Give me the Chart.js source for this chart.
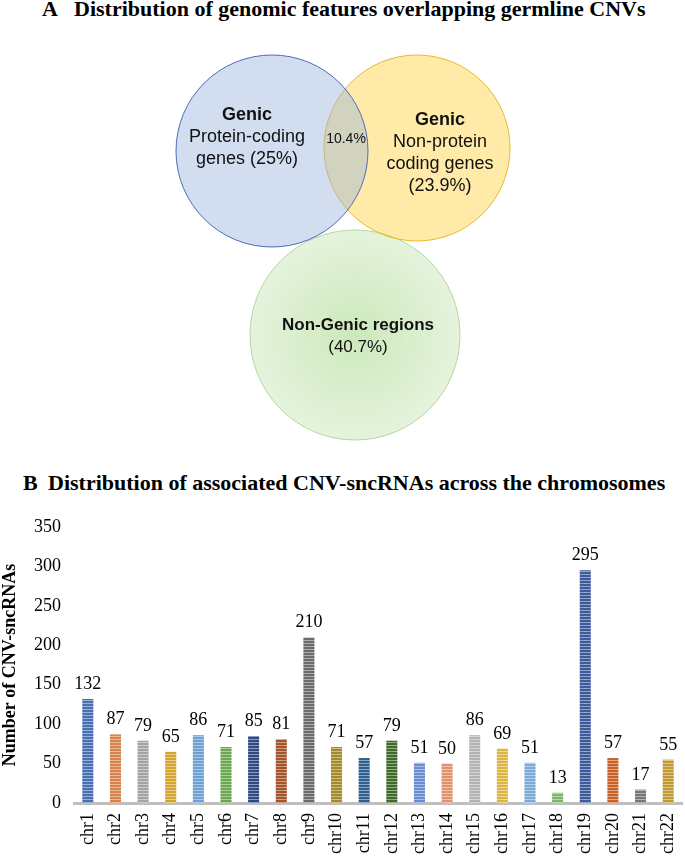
<!DOCTYPE html>
<html>
<head>
<meta charset="utf-8">
<script src="https://cdn.jsdelivr.net/npm/chart.js@4.4.1/dist/chart.umd.min.js"></script>
<style>
  html, body { margin: 0; padding: 0; background: #fff; }
  #page { position: relative; width: 685px; height: 862px; overflow: hidden; }
  .title {
    position: absolute;
    font-family: "Liberation Serif", "Times New Roman", serif;
    font-weight: bold;
    font-size: 22px;
    line-height: 22px;
    white-space: pre;
    color: #000;
  }
  .title .tag { display: inline-block; }
  #titleA { left: 42px; top: -2px; }
  #titleA .tag { width: 32px; }
  #titleB { left: 23px; top: 472px; }
  #titleB .tag { width: 25px; }
  #venn { position: absolute; left: 0; top: 30px; }
  #bars { position: absolute; left: 0; top: 500px; }
</style>
</head>
<body>
<div id="page">
  <div class="title" id="titleA"><span class="tag">A</span>Distribution of genomic features overlapping germline CNVs</div>
  <canvas id="venn" width="685" height="440"></canvas>
  <div class="title" id="titleB"><span class="tag">B</span>Distribution of associated CNV-sncRNAs across the chromosomes</div>
  <canvas id="bars" width="685" height="362"></canvas>
</div>
<script>
// ---- data ----
const vennSets = ['Protein-coding genes', 'Non-protein coding genes', 'Non-Genic regions'];
const vennShares = [25, 23.9, 40.7];
const vennOverlap = 10.4;

const chromosomes = ['chr1', 'chr2', 'chr3', 'chr4', 'chr5', 'chr6', 'chr7', 'chr8', 'chr9', 'chr10', 'chr11',
  'chr12', 'chr13', 'chr14', 'chr15', 'chr16', 'chr17', 'chr18', 'chr19', 'chr20', 'chr21', 'chr22'];
const counts = [132, 87, 79, 65, 86, 71, 85, 81, 210, 71, 57, 79, 51, 50, 86, 69, 51, 13, 295, 57, 17, 55];
const yTicks = [0, 50, 100, 150, 200, 250, 300, 350];

// ---- look ----
const serif = '"Liberation Serif", "Times New Roman", serif';
const sans = '"Liberation Sans", Arial, Helvetica, sans-serif';

const barColors = ['#4a70b4', '#d9814c', '#a3a3a3', '#d3a52f', '#6c9fd2', '#6aa84f', '#2f4a80', '#a2552c',
  '#6b6b6b', '#a58a2a', '#2e5f8e', '#3f6b2a', '#6a8cd0', '#e0936a', '#b2b2b2', '#dcb640', '#7aaad8',
  '#7fb566', '#3c5a9c', '#c8602a', '#777777', '#c09a30'];

// circle placement for the venn (canvas pixels, y measured from page top)
// dataset 0 is painted last, so blue sits over yellow and green
const vennLayout = [
  { x: 272, y: 151, r: 96, fill: 'rgba(156,180,222,0.45)', stroke: '#4a6db5' },
  { x: 417, y: 148, r: 93, fill: 'rgba(255,192,0,0.34)', stroke: '#e8b92b' },
  { x: 355, y: 335, r: 105, fill: null, stroke: '#b4d69e' }
];

// label blocks: x, y of first line, lines as [text, bold]
const vennText = [
  { x: 247, y: 115, size: 18, lines: [['Genic', true], ['Protein-coding', false], ['genes (' + vennShares[0] + '%)', false]] },
  { x: 440, y: 120, size: 18, lines: [['Genic', true], ['Non-protein', false], ['coding genes', false], ['(' + vennShares[1] + '%)', false]] },
  { x: 358, y: 325, size: 17, lines: [['Non-Genic regions', true], ['(' + vennShares[2] + '%)', false]] }
];

// horizontal stripe fill like the office pattern fill
function stripes(color) {
  const c = document.createElement('canvas');
  c.width = 4; c.height = 3;
  const g = c.getContext('2d');
  g.fillStyle = color;
  g.fillRect(0, 0, 4, 3);
  g.fillStyle = 'rgba(255,255,255,0.45)';
  g.fillRect(0, 2, 4, 1);
  return g.createPattern(c, 'repeat');
}

// ---- venn (bubble chart on a pixel-like scale) ----
const vennLabels = {
  id: 'vennLabels',
  afterDatasetsDraw(chart) {
    const ctx = chart.ctx;
    const sx = chart.scales.x, sy = chart.scales.y;
    ctx.save();
    ctx.fillStyle = '#111';
    ctx.textAlign = 'center';
    ctx.textBaseline = 'middle';
    vennText.forEach(block => {
      block.lines.forEach((ln, j) => {
        ctx.font = (ln[1] ? 'bold ' : '') + block.size + 'px ' + sans;
        ctx.fillText(ln[0], sx.getPixelForValue(block.x), sy.getPixelForValue(block.y + j * 22));
      });
    });
    ctx.font = '14px ' + sans;
    ctx.fillText(vennOverlap + '%', sx.getPixelForValue(346), sy.getPixelForValue(139));
    ctx.restore();
  }
};

function greenFill(ctx) {
  const chart = ctx.chart;
  const sx = chart.scales.x, sy = chart.scales.y;
  const l = vennLayout[2];
  if (!sx || !sy) return '#dcefd0';
  const cx = sx.getPixelForValue(l.x), cy = sy.getPixelForValue(l.y);
  if (!isFinite(cx) || !isFinite(cy)) return '#dcefd0';
  const grad = chart.ctx.createRadialGradient(cx, cy, 0, cx, cy, l.r);
  grad.addColorStop(0, '#cce8bb');
  grad.addColorStop(1, '#e5f3dd');
  return grad;
}

new Chart(document.getElementById('venn'), {
  type: 'bubble',
  data: {
    datasets: vennSets.map((name, i) => ({
      label: name,
      data: [{ x: vennLayout[i].x, y: vennLayout[i].y, r: vennLayout[i].r }],
      backgroundColor: vennLayout[i].fill || greenFill,
      borderColor: vennLayout[i].stroke,
      borderWidth: 1,
      clip: false
    }))
  },
  options: {
    responsive: false,
    animation: false,
    events: [],
    layout: { padding: 0, autoPadding: false },
    plugins: { legend: { display: false }, tooltip: { enabled: false } },
    scales: {
      x: { type: 'linear', min: 0, max: 685, display: false },
      y: { type: 'linear', min: 30, max: 470, reverse: true, display: false }
    }
  },
  plugins: [vennLabels]
});

// ---- bar chart ----
const valueLabels = {
  id: 'valueLabels',
  afterDatasetsDraw(chart) {
    const ctx = chart.ctx;
    const meta = chart.getDatasetMeta(0);
    ctx.save();
    ctx.font = '18px ' + serif;
    ctx.fillStyle = '#000';
    ctx.textAlign = 'center';
    ctx.textBaseline = 'alphabetic';
    meta.data.forEach((bar, i) => {
      ctx.fillText(String(counts[i]), bar.x, bar.y - 10);
    });
    ctx.restore();
  }
};

new Chart(document.getElementById('bars'), {
  type: 'bar',
  data: {
    labels: chromosomes,
    datasets: [{
      data: counts,
      backgroundColor: barColors.map(stripes),
      borderWidth: 0,
      barPercentage: 0.4,
      categoryPercentage: 1
    }]
  },
  options: {
    responsive: false,
    animation: false,
    events: [],
    layout: { padding: { top: 27, right: 3, left: 0, bottom: 0 }, autoPadding: false },
    plugins: { legend: { display: false }, tooltip: { enabled: false } },
    scales: {
      x: {
        grid: { display: false, drawTicks: false },
        border: { display: true, color: '#bfbfbf', width: 3 },
        ticks: {
          autoSkip: false, minRotation: 90, maxRotation: 90, padding: 10,
          color: '#000', font: { family: serif, size: 18 }
        },
        afterFit: s => { s.height = 59; s.paddingLeft = 0; s.paddingRight = 0; }
      },
      y: {
        min: 0, max: 350,
        afterBuildTicks: s => { s.ticks = yTicks.map(v => ({ value: v })); },
        grid: { display: false, drawTicks: false },
        border: { display: false },
        ticks: { padding: 13, color: '#000', font: { family: serif, size: 18 } },
        title: {
          display: true, text: 'Number of CNV-sncRNAs', color: '#000', padding: 0,
          font: { family: serif, size: 18, weight: 'bold' }
        },
        afterFit: s => { s.width = 74; s.paddingTop = 0; s.paddingBottom = 0; }
      }
    }
  },
  plugins: [valueLabels]
});
</script>
</body>
</html>
